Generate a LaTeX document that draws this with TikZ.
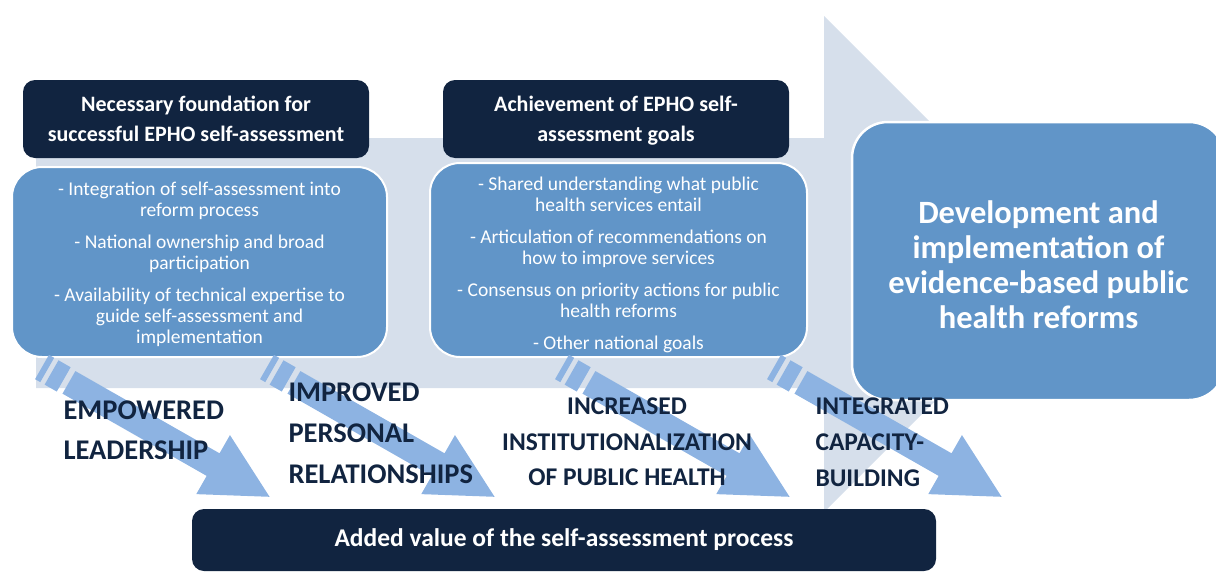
\documentclass[tikz,border=0pt]{standalone}
\usepackage{fontspec}
\setmainfont{Carlito}
\usepackage{xcolor}
\usetikzlibrary{arrows.meta}

\definecolor{navy}{RGB}{17,36,64}
\definecolor{midblue}{RGB}{97,149,200}
\definecolor{paleband}{RGB}{214,223,235}
\definecolor{stripeblue}{RGB}{141,179,226}

\begin{document}
\begin{tikzpicture}[x=1pt,y=-1pt,
  headbox/.style={fill=navy,rounded corners=12pt,text=white,align=center,
    font=\fontsize{22}{30}\selectfont\bfseries},
  listbox/.style={fill=midblue,draw=white,line width=2pt,rounded corners=30pt,
    text=white,align=center,font=\fontsize{19.5}{21}\selectfont},
  bigbox/.style={fill=midblue,draw=white,line width=2.5pt,rounded corners=36pt,
    text=white,align=center,font=\fontsize{32.5}{35}\selectfont\bfseries},
  tag/.style={text=navy,font=\fontsize{28.5}{40}\selectfont\bfseries}]
\useasboundingbox (0,0) rectangle (1216,573);
\clip (0,0) rectangle (1216,573);

% big pale arrow behind everything
\fill[paleband] (36,138) -- (824,138) -- (824,16) -- (1072,264)
  -- (824,512) -- (824,388) -- (36,388) -- cycle;

\node[headbox,minimum width=346,minimum height=78] (found) at (196,119)
  {Necessary foundation for\\successful EPHO self-assessment};
\node[headbox,minimum width=346,minimum height=78] (goals) at (616,119)
  {\rule{0pt}{19pt}Achievement of EPHO self-\\assessment goals};

\node[listbox,minimum width=375,minimum height=190] (needs) at (199.5,262)
  {\rule{0pt}{18.5pt}- Integration of self-assessment into\\reform process\\[11pt]
   - National ownership and broad\\participation\\[11pt]
   - Availability of technical expertise to\\guide self-assessment and\\implementation};
\node[listbox,minimum width=377,minimum height=194] (gains) at (618.5,260)
  {\rule{0pt}{24pt}- Shared understanding what public\\health services entail\\[11pt]
   - Articulation of recommendations on\\how to improve services\\[11pt]
   - Consensus on priority actions for public\\health reforms\\[11pt]
   - Other national goals};

\node[bigbox,minimum width=373,minimum height=278] (reform) at (1038.5,261)
  {\rule{0pt}{30.5pt}Development and\\implementation of\\evidence-based public\\health reforms};

% striped arrows, one per added value
\foreach \tx in {270,495,790,1002}{
  \begin{scope}[shift={({\tx-228},367)},rotate=-29.7]
    \fill[stripeblue] (0,-14) rectangle (6,14);
    \fill[stripeblue] (11,-14) rectangle (25,14);
    \fill[stripeblue] (31,-13) -- (197,-13) -- (197,-34) -- (262,0)
      -- (197,34) -- (197,13) -- (31,13) -- cycle;
  \end{scope}
}

\node[tag,anchor=west,align=left] (lead) at (60,430) {EMPOWERED\\LEADERSHIP};
\node[tag,anchor=west,align=left,font=\fontsize{28.5}{41}\selectfont\bfseries] (rel) at (285,433)
  {IMPROVED\\PERSONAL\\RELATIONSHIPS};
\node[tag,align=center,font=\fontsize{25.5}{35.5}\selectfont\bfseries] (inst) at (627,442)
  {INCREASED\\INSTITUTIONALIZATION\\OF PUBLIC HEALTH};
\node[tag,anchor=west,align=left,font=\fontsize{25.5}{36}\selectfont\bfseries] (cap) at (812,442)
  {INTEGRATED\\CAPACITY-\\BUILDING};

\node[headbox,minimum width=744,minimum height=62,font=\fontsize{25.5}{25}\selectfont\bfseries]
  (added) at (564,540) {Added value of the self-assessment process};
\end{tikzpicture}
\end{document}
